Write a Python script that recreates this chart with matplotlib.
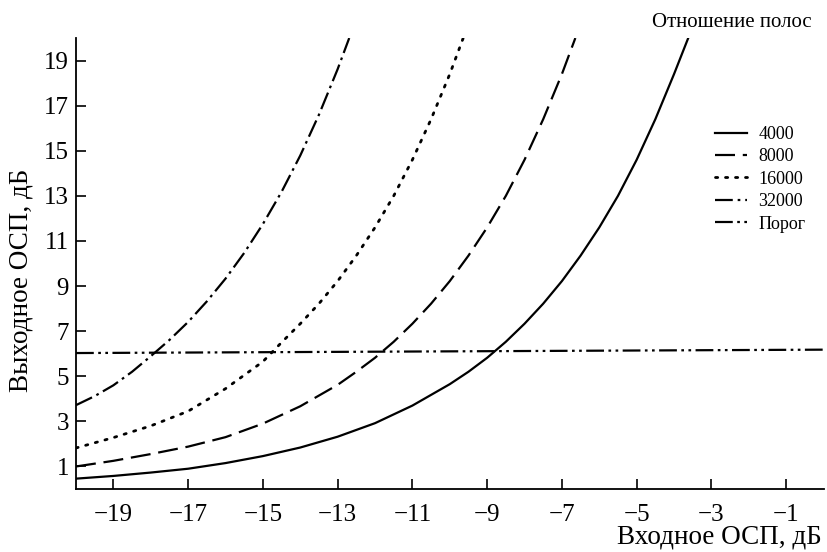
import matplotlib
matplotlib.use('Agg')
from matplotlib import pyplot as plt

plt.rcParams['font.family'] = ['Liberation Serif', 'DejaVu Serif']
plt.rcParams['axes.unicode_minus'] = True

# Input SNR, dB (x) and output SNR, dB (y)
x_4000 = [-20, -19, -18, -17, -16, -15, -14, -13, -12, -11, -10, -9.5, -9, -8.5,
          -8, -7.5, -7, -6.5, -6, -5.5, -5, -4.5, -4, -3.62]
y_4000 = [0.46, 0.58, 0.73, 0.90, 1.15, 1.46, 1.84, 2.32, 2.92, 3.70, 4.65, 5.2, 5.82, 6.53,
          7.33, 8.22, 9.22, 10.35, 11.6, 13.0, 14.6, 16.4, 18.4, 20.0]

x_8000 = [-20, -19, -18, -17, -16, -15, -14, -13, -12.5, -12, -11.5, -11, -10.5, -10,
          -9.5, -9, -8.5, -8, -7.5, -7, -6.64]
y_8000 = [1.0, 1.25, 1.55, 1.88, 2.3, 2.9, 3.67, 4.62, 5.2, 5.82, 6.53, 7.33, 8.22, 9.22,
          10.35, 11.6, 13.0, 14.6, 16.4, 18.4, 20.0]

x_16000 = [-20, -19, -18, -17, -16, -15, -14.5, -14, -13.5, -13, -12.5, -12, -11.5, -11,
           -10.5, -10, -9.64]
y_16000 = [1.82, 2.28, 2.80, 3.45, 4.45, 5.65, 6.5, 7.33, 8.22, 9.22, 10.35, 11.6, 13.0, 14.6,
           16.4, 18.4, 20.0]

x_32000 = [-20, -19.5, -19, -18.5, -18, -17.5, -17, -16.5, -16, -15.5, -15, -14.5, -14,
           -13.5, -13, -12.69]
y_32000 = [3.72, 4.12, 4.6, 5.2, 5.89, 6.61, 7.41, 8.32, 9.33, 10.47, 11.75, 13.18, 14.79,
           16.6, 18.62, 20.0]

x_porog = [-20, 0]
y_porog = [6.03, 6.18]

labels = ['4000', '8000', '16000', '32000', 'Порог']
x_ticks = [-19, -17, -15, -13, -11, -9, -7, -5, -3, -1]
y_ticks = [1, 3, 5, 7, 9, 11, 13, 15, 17, 19]

fig = plt.figure(figsize=(8.28, 5.52), dpi=100)
ax = fig.add_axes([0.0918, 0.1141, 0.9028, 0.817])

ax.plot(x_4000, y_4000, color='black', lw=1.6, label=labels[0])
ax.plot(x_8000, y_8000, color='black', lw=1.6, dashes=(9, 3.5), label=labels[1])
ax.plot(x_16000, y_16000, color='black', lw=2.0, dashes=(0.8, 2.8),
        dash_capstyle='round', label=labels[2])
ax.plot(x_32000, y_32000, color='black', lw=1.6, dashes=(8, 2.2, 1.2, 2.2), label=labels[3])
ax.plot(x_porog, y_porog, color='black', lw=1.6,
        dashes=(8, 2.0, 1.2, 2.0, 1.2, 2.0), label=labels[4])

ax.set_xlim(-20, 0)
ax.set_ylim(0, 20)
ax.set_xticks(x_ticks)
ax.set_yticks(y_ticks)
ax.spines['top'].set_visible(False)
ax.spines['right'].set_visible(False)
ax.spines['left'].set_linewidth(1.3)
ax.spines['bottom'].set_linewidth(1.3)
ax.tick_params(axis='both', direction='in', length=7, width=1.2, labelsize=18)
ax.tick_params(axis='x', pad=11)
ax.tick_params(axis='y', pad=5)

ax.set_ylabel('Выходное ОСП, дБ', fontsize=19.5)
ax.yaxis.set_label_coords(-0.057, 0.463)
fig.text(0.992, 0.004, 'Входное ОСП, дБ', fontsize=19.5, ha='right', va='bottom')
fig.text(0.98, 0.96, 'Отношение полос', fontsize=15, ha='right', va='center')

ax.legend(loc='upper left', bbox_to_anchor=(0.8635, 0.772), bbox_transform=fig.transFigure,
          frameon=False, fontsize=13, handlelength=1.8, handletextpad=0.6,
          labelspacing=0.3, borderpad=0, borderaxespad=0)

fig.savefig('out.png', dpi=100)
